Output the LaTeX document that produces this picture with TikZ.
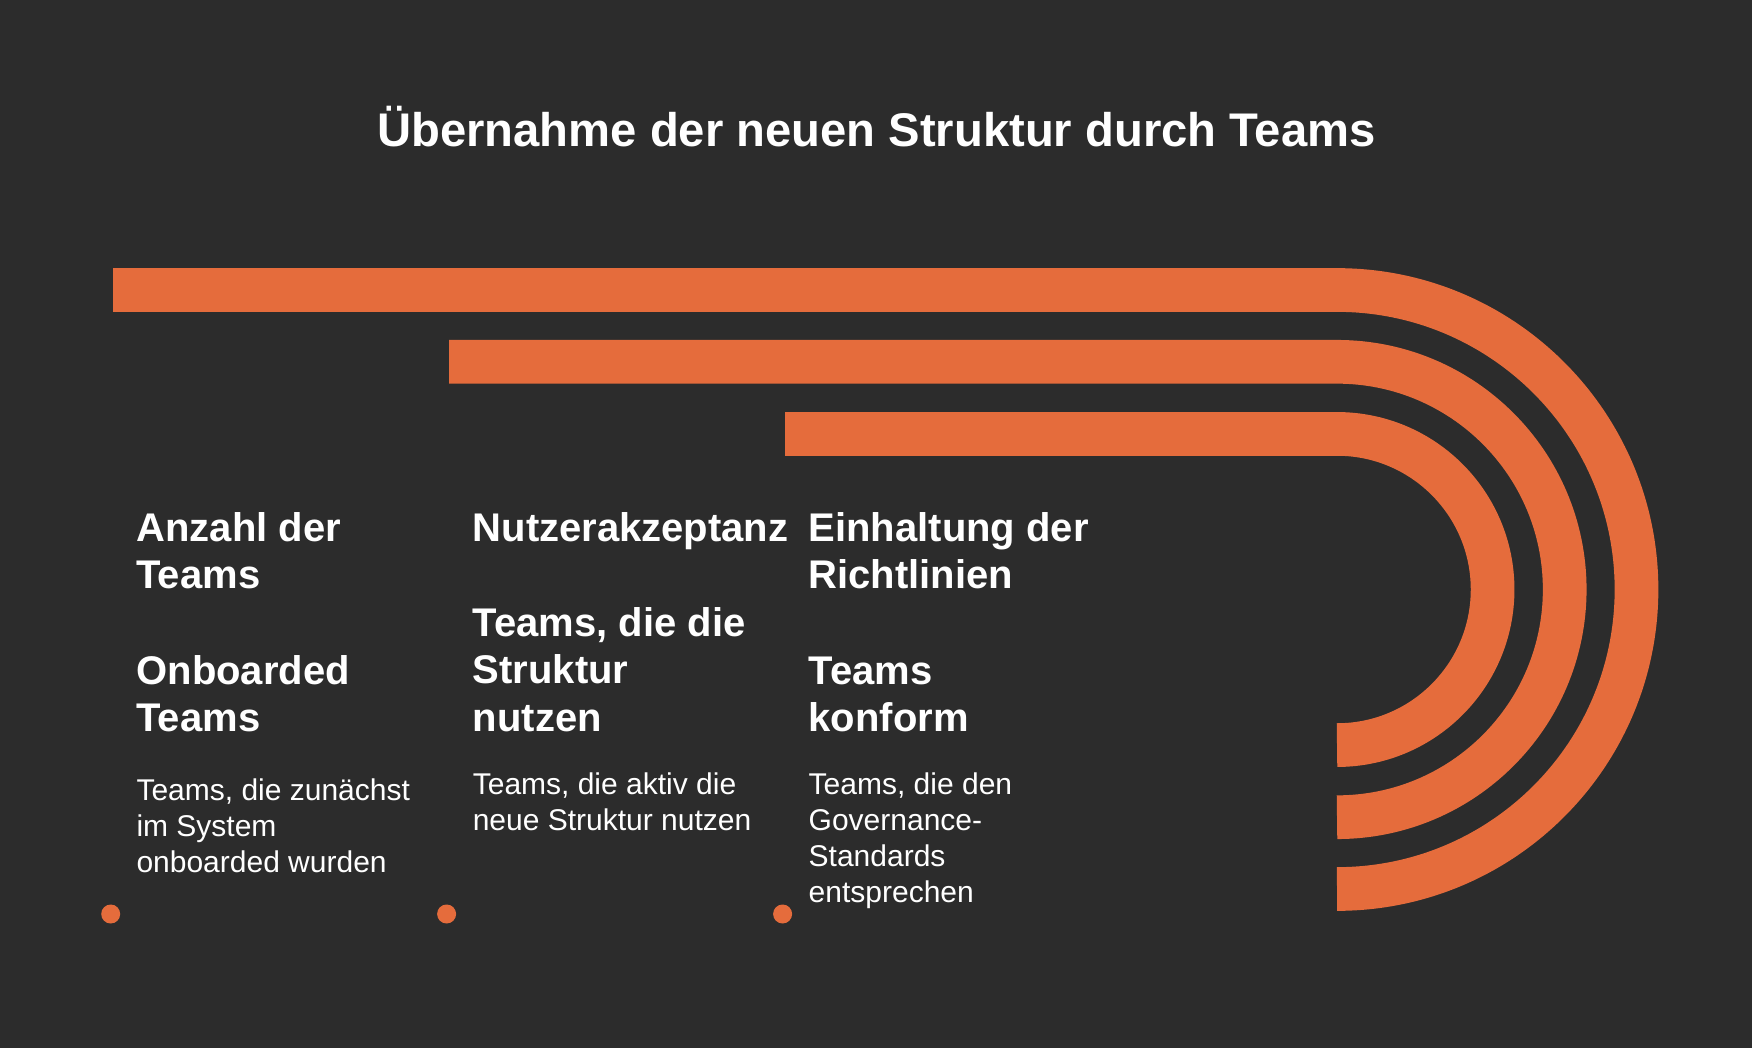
\documentclass[tikz,border=0pt]{standalone}
\usepackage{fontspec}
\setmainfont{Liberation Sans}
\definecolor{bg}{HTML}{2C2C2C}
\definecolor{accent}{HTML}{E56C3C}
\begin{document}
\begin{tikzpicture}[x=1pt,y=1pt,
  band/.style={draw=accent, line width=43.7pt},
  head/.style={anchor=base west, inner sep=0pt, text=white, font=\bfseries\fontsize{40}{47}\selectfont},
  body/.style={anchor=base west, inner sep=0pt, text=white, font=\fontsize{30}{36}\selectfont},
  dot/.style={circle, fill=accent, minimum size=19pt, inner sep=0pt}]
\fill[bg] (0,0) rectangle (1752,-1048);
\useasboundingbox (0,0) rectangle (1752,-1048);
\node[anchor=base, inner sep=0pt, text=white, font=\bfseries\fontsize{47.2}{56}\selectfont] (title) at (876.5,-146.7) {Übernahme der neuen Struktur durch Teams};

% bands
\draw[band] (113,-290) -- (1337,-290) arc[start angle=90, end angle=-90, radius=299.5];
\draw[band] (449,-361.8) -- (1337,-361.8) arc[start angle=90, end angle=-90, radius=227.7];
\draw[band] (785,-433.9) -- (1337,-433.9) arc[start angle=90, end angle=-90, radius=155.6];

% column 1
\node[head] (h1a) at (136.3,-541) {Anzahl der};
\node[head] (h1b) at (136.3,-588.3) {Teams};
\node[head] (h1c) at (136.3,-684.3) {Onboarded};
\node[head] (h1d) at (136.3,-731.7) {Teams};
\node[body] (b1a) at (136.3,-800) {Teams, die zunächst};
\node[body] (b1b) at (136.3,-836.5) {im System};
\node[body] (b1c) at (136.3,-872.5) {onboarded wurden};

% column 2
\begin{scope}
\clip (449,-480) rectangle (786,-560);
\node[head] (h2a) at (472.6,-541) {Nutzerakzeptanz:};
\end{scope}
\node[head] (h2b) at (472.6,-636) {Teams, die die};
\node[head] (h2c) at (472.6,-683.3) {Struktur};
\node[head] (h2d) at (472.6,-731.7) {nutzen};
\node[body] (b2a) at (472.6,-794) {Teams, die aktiv die};
\node[body] (b2b) at (472.6,-830) {neue Struktur nutzen};

% column 3
\node[head] (h3a) at (808.5,-541) {Einhaltung der};
\node[head] (h3b) at (808.5,-588.3) {Richtlinien};
\node[head] (h3c) at (808.5,-684) {Teams};
\node[head] (h3d) at (808.5,-731.7) {konform};
\node[body] (b3a) at (808.5,-794) {Teams, die den};
\node[body] (b3b) at (808.5,-830) {Governance-};
\node[body] (b3c) at (808.5,-866) {Standards};
\node[body] (b3d) at (808.5,-902) {entsprechen};

% dots
\node[dot] (d1) at (110.7,-914) {};
\node[dot] (d2) at (446.6,-914) {};
\node[dot] (d3) at (782.6,-914) {};
\end{tikzpicture}
\end{document}
